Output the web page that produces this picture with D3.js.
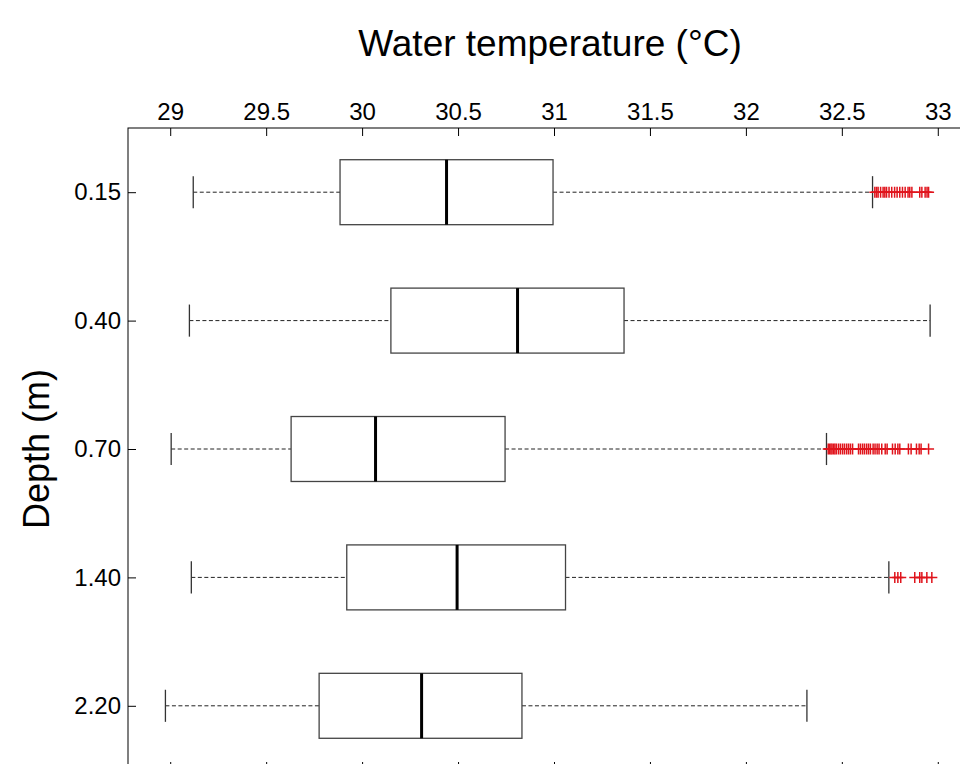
<!DOCTYPE html>
<html><head><meta charset="utf-8">
<script src="https://cdn.jsdelivr.net/npm/d3@7"></script>
<style>html,body{margin:0;padding:0;background:#fff;overflow:hidden}</style>
</head><body>
<svg id="chart" width="960" height="764"></svg>
<script>
const depths = ["0.15", "0.40", "0.70", "1.40", "2.20"];
const whiskerLow  = [29.12, 29.10, 29.005, 29.11, 28.975];
const q1          = [29.885, 30.15, 29.63, 29.92, 29.776];
const medians     = [30.44, 30.81, 30.07, 30.495, 30.31];
const q3          = [30.995, 31.365, 30.745, 31.06, 30.833];
const whiskerHigh = [32.66, 32.96, 32.42, 32.745, 32.318];
const outliers015 = [32.672,32.681,32.689,32.702,32.715,32.724,32.733,32.746,32.760,32.775,32.788,32.802,32.816,32.830,32.845,32.854,32.865,32.906,32.917,32.934,32.944,32.952];
const outliers040 = [];
const outliers070 = [32.429,32.436,32.443,32.449,32.457,32.464,32.472,32.483,32.493,32.504,32.514,32.525,32.535,32.545,32.556,32.587,32.597,32.608,32.618,32.629,32.639,32.649,32.663,32.673,32.684,32.694,32.708,32.726,32.736,32.764,32.778,32.792,32.802,32.847,32.861,32.889,32.903,32.913,32.952];
const outliers140 = [32.776,32.792,32.807,32.880,32.906,32.917,32.943,32.969];
const outliers220 = [];
const outlierSets = [outliers015, outliers040, outliers070, outliers140, outliers220];
const xTicks = [29, 29.5, 30, 30.5, 31, 31.5, 32, 32.5, 33];
const xTickLabels = ["29", "29.5", "30", "30.5", "31", "31.5", "32", "32.5", "33"];
const title = "Water temperature (°C)";
const yTitle = "Depth (m)";

const svg = d3.select("#chart");
const pL = 128, pT = 128, pR = 980, pB = 770;
const x = d3.scaleLinear().domain([28.78, 33.22]).range([pL, pR]);
const y = d3.scalePoint().domain(depths).range([pT, pB]).padding(0.5);
const halfBox = y.step() * 0.253;
const capHalf = y.step() * 0.125;
const font = "'Liberation Sans', Arial, sans-serif";

svg.append("rect").attr("x", pL).attr("y", pT).attr("width", pR - pL).attr("height", pB - pT)
  .attr("fill", "none").attr("stroke", "#000").attr("stroke-width", 1);

const topAxis = d3.axisTop(x).tickValues(xTicks).tickFormat((d, i) => xTickLabels[i]).tickSizeInner(-8).tickSizeOuter(0).tickPadding(8);
const gt = svg.append("g").attr("transform", `translate(0,${pT})`).call(topAxis);
gt.select(".domain").remove();
gt.selectAll("text").attr("font-family", font).attr("font-size", 24).attr("fill", "#000");
gt.selectAll("line").attr("stroke", "#000");

const botAxis = d3.axisBottom(x).tickValues(xTicks).tickFormat("").tickSizeInner(-8).tickSizeOuter(0);
const gb = svg.append("g").attr("transform", `translate(0,${pB})`).call(botAxis);
gb.select(".domain").remove();
gb.selectAll("line").attr("stroke", "#000");

const leftAxis = d3.axisLeft(y).tickSizeInner(-8).tickSizeOuter(0).tickPadding(7);
const gl = svg.append("g").attr("transform", `translate(${pL},0)`).call(leftAxis);
gl.select(".domain").remove();
gl.selectAll("text").attr("font-family", font).attr("font-size", 24).attr("fill", "#000");
gl.selectAll("line").attr("stroke", "#000");

depths.forEach((d, i) => {
  const cy = y(d);
  const g = svg.append("g");
  g.append("line").attr("x1", x(whiskerLow[i])).attr("x2", x(q1[i])).attr("y1", cy).attr("y2", cy)
    .attr("stroke", "#222").attr("stroke-dasharray", "4,2.5").attr("stroke-width", 1);
  g.append("line").attr("x1", x(q3[i])).attr("x2", x(whiskerHigh[i])).attr("y1", cy).attr("y2", cy)
    .attr("stroke", "#222").attr("stroke-dasharray", "4,2.5").attr("stroke-width", 1);
  [whiskerLow[i], whiskerHigh[i]].forEach(v => {
    g.append("line").attr("x1", x(v)).attr("x2", x(v)).attr("y1", cy - capHalf).attr("y2", cy + capHalf)
      .attr("stroke", "#333").attr("stroke-width", 1.3);
  });
  g.append("rect").attr("x", x(q1[i])).attr("y", cy - halfBox).attr("width", x(q3[i]) - x(q1[i])).attr("height", 2 * halfBox)
    .attr("fill", "#fff").attr("stroke", "#444").attr("stroke-width", 1.3);
  g.append("line").attr("x1", x(medians[i])).attr("x2", x(medians[i])).attr("y1", cy - halfBox).attr("y2", cy + halfBox)
    .attr("stroke", "#000").attr("stroke-width", 3);
  const ms = 5.5;
  outlierSets[i].forEach(v => {
    const px = x(v);
    g.append("path").attr("d", `M${px - ms},${cy}H${px + ms}M${px},${cy - ms}V${cy + ms}`)
      .attr("stroke", "#e0141c").attr("stroke-width", 1.5).attr("fill", "none");
  });
});

svg.append("text").attr("x", 550).attr("y", 56).attr("text-anchor", "middle")
  .attr("font-family", font).attr("font-size", 37).attr("fill", "#000").text(title);
svg.append("text").attr("transform", `translate(49,${y("0.70")}) rotate(-90)`).attr("text-anchor", "middle")
  .attr("font-family", font).attr("font-size", 36).attr("fill", "#000").text(yTitle);
</script>
</body></html>
